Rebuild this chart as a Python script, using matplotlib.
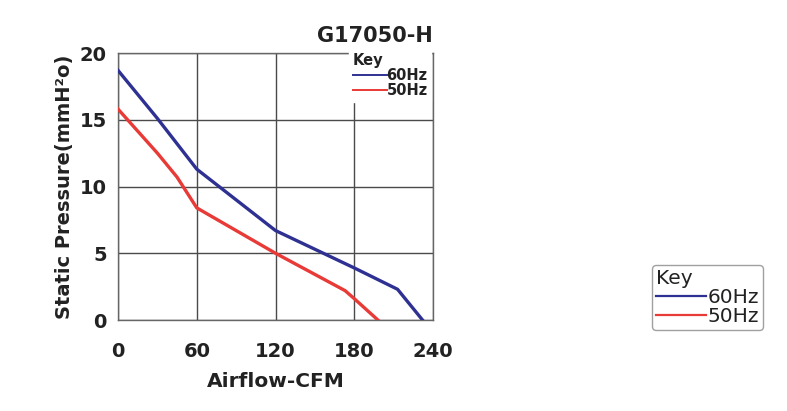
import matplotlib
matplotlib.use("Agg")
import matplotlib.pyplot as plt

plt.rcParams['font.family'] = ['DejaVu Sans']

# curve readings (CFM, mmH2O)
cfm_60 = [0, 30, 60, 120, 180, 213, 232]
sp_60 = [18.7, 15.1, 11.3, 6.7, 3.9, 2.3, 0]
cfm_50 = [0, 30, 45, 60, 120, 173, 180, 198]
sp_50 = [15.8, 12.5, 10.7, 8.4, 5.0, 2.2, 1.6, 0]

x_ticks = [0, 60, 120, 180, 240]
y_ticks = [0, 5, 10, 15, 20]

blue = "#2e3192"
red = "#e83a36"
ink = "#222222"

fig = plt.figure(figsize=(7.87, 4.11), dpi=100)
ax = fig.add_axes([118 / 787, 1 - 320 / 411, 315 / 787, 267 / 411])

l60, = ax.plot(cfm_60, sp_60, color=blue, lw=2.4, zorder=3)
l50, = ax.plot(cfm_50, sp_50, color=red, lw=2.4, zorder=3)

ax.set_xlim(0, 240)
ax.set_ylim(0, 20)
ax.set_xticks(x_ticks)
ax.set_yticks(y_ticks)
ax.grid(True, color="#4a4a4a", lw=1.0)
ax.tick_params(axis="x", length=0, labelsize=14, pad=16)
ax.tick_params(axis="y", length=0, labelsize=14, pad=8)
for lab in ax.get_xticklabels() + ax.get_yticklabels():
    lab.set_fontweight("bold")
    lab.set_color(ink)
for s in ax.spines.values():
    s.set_color("#666666")
    s.set_linewidth(1.0)
ax.spines["right"].set_zorder(6)

ax.set_xlabel("Airflow-CFM", fontsize=14.5, fontweight="bold", color=ink, labelpad=8)
ax.set_ylabel("Static Pressure(mmH²o)", fontsize=14, fontweight="bold", color=ink, labelpad=4)
ax.set_title("G17050-H", loc="right", fontsize=15, fontweight="bold", color=ink, pad=8)

# small key inside the plot
leg_in = ax.legend([l60, l50], ["60Hz", "50Hz"], title="Key", loc="upper right",
                   bbox_to_anchor=(0.995, 1.012), frameon=True, fancybox=False,
                   framealpha=1.0, edgecolor="white", facecolor="white",
                   prop={"weight": "bold", "size": 10.5}, handlelength=2.3,
                   handletextpad=0.0, labelspacing=0.0, borderpad=0.25,
                   borderaxespad=0.0, alignment="left")
leg_in.get_title().set_fontweight("bold")
leg_in.get_title().set_fontsize(10.5)
leg_in.get_title().set_color(ink)
for t in leg_in.get_texts():
    t.set_color(ink)
for h in leg_in.legend_handles:
    h.set_linewidth(1.4)
leg_in.set_zorder(5)

# outer key on the right
leg_out = fig.legend([l60, l50], ["60Hz", "50Hz"], title="Key", loc="upper left",
                     bbox_to_anchor=(652 / 787, 1 - 265 / 411), frameon=True,
                     fancybox=True, edgecolor="#888888", facecolor="white",
                     prop={"size": 14.5}, handlelength=2.5, handletextpad=0.05,
                     labelspacing=0.0, borderpad=0.2, borderaxespad=0.0,
                     alignment="left")
leg_out.get_title().set_fontsize(14.5)
leg_out.get_title().set_color(ink)
for t in leg_out.get_texts():
    t.set_color(ink)
for h in leg_out.legend_handles:
    h.set_linewidth(1.6)

fig.savefig("out.png", dpi=100)
